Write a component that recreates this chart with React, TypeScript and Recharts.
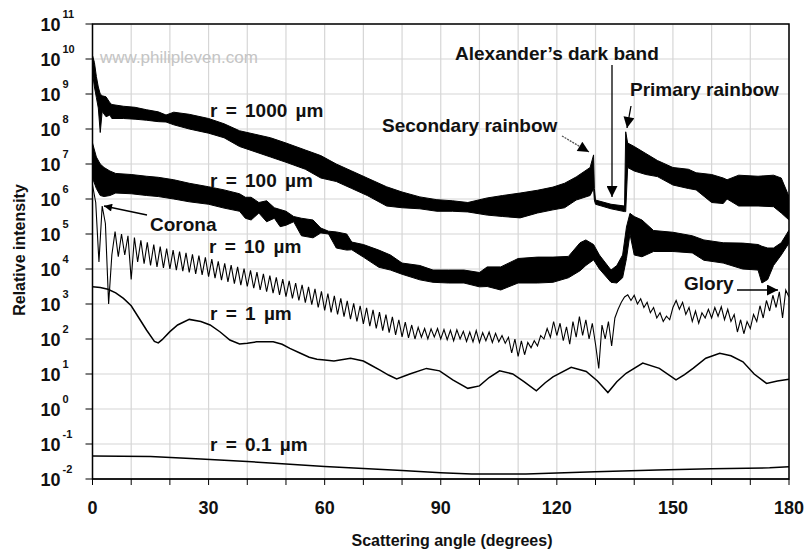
import React from "react";
import {
  ComposedChart,
  Line,
  Area,
  XAxis,
  YAxis,
  CartesianGrid,
  ReferenceArea,
} from "recharts";

// Scattered light intensity vs angle for water drops of several radii.
// Intensities are stored as exponents (log10 of relative intensity).

const xTicks = [0, 10, 20, 30, 40, 50, 60, 70, 80, 90, 100, 110, 120, 130, 140, 150, 160, 170, 180];
const yTickExp = [-2, -1, 0, 1, 2, 3, 4, 5, 6, 7, 8, 9, 10, 11];

// r = 1000 µm, drawn as the band between its lower and upper envelope
const r1000Angle = [0, 0.5, 1, 1.5, 2, 2.5, 3.5, 4.5, 5, 8, 11, 14, 17, 19, 21, 25, 30, 34, 38, 42, 46, 50, 55, 59, 63, 67, 71, 76, 80, 84.6, 89, 93, 97, 102, 106, 110.5, 115, 119, 122, 125, 128.6, 129.5, 129.7, 130, 134, 137.5, 137.8, 138.3, 140, 143, 146, 150, 154, 156, 160, 163, 164, 167, 172, 176, 178, 180];
const r1000Lo = [9.6, 9.2, 8.9, 8.6, 7.9, 8.5, 8.35, 8.4, 8.3, 8.3, 8.28, 8.25, 8.21, 8.2, 8.12, 8.0, 7.88, 7.75, 7.5, 7.35, 7.2, 7.05, 6.85, 6.6, 6.5, 6.3, 6.1, 5.8, 5.75, 5.72, 5.65, 5.65, 5.63, 5.54, 5.5, 5.46, 5.6, 5.69, 5.75, 5.97, 6.1, 6.3, 5.97, 5.85, 5.72, 5.64, 5.64, 6.9, 6.8, 6.7, 6.64, 6.4, 6.3, 6.26, 5.9, 5.87, 6.0, 5.8, 5.8, 5.78, 5.6, 5.4];
const r1000Hi = [10.1, 9.9, 9.5, 9.2, 9.0, 8.95, 8.92, 8.75, 8.7, 8.65, 8.62, 8.55, 8.49, 8.4, 8.48, 8.42, 8.3, 8.15, 7.95, 7.85, 7.75, 7.6, 7.4, 7.24, 7.0, 6.8, 6.6, 6.35, 6.2, 6.06, 5.98, 5.95, 5.9, 6.03, 6.1, 6.17, 6.25, 6.34, 6.45, 6.63, 6.9, 7.26, 6.3, 5.97, 5.85, 5.8, 7.92, 7.6, 7.5, 7.3, 7.1, 6.9, 6.85, 6.75, 6.7, 6.6, 6.55, 6.68, 6.65, 6.68, 6.6, 6.07];

// r = 100 µm band
const r100Angle = [0, 1, 2, 3, 4.5, 6, 10, 14, 17, 21, 25, 30, 34, 38, 39.5, 41, 43, 45, 47, 48.5, 50, 52, 54, 57, 59, 61, 63, 65.7, 67, 70, 74, 77, 80, 84.6, 88, 92, 96, 100, 102, 105.5, 110, 115, 119, 123, 126, 127.5, 129.5, 131, 134, 135.5, 137, 138, 138.9, 140, 142, 145, 150, 155, 158, 163, 168, 172, 173, 174.5, 176, 178, 180];
const r100Lo = [6.6, 6.3, 6.1, 6.07, 6.1, 6.17, 6.15, 6.1, 6.07, 6.0, 5.92, 5.85, 5.74, 5.65, 5.45, 5.4, 5.6, 5.35, 5.45, 5.21, 5.25, 5.35, 4.95, 4.89, 5.03, 5.0, 4.6, 4.54, 4.55, 4.34, 4.05, 3.97, 3.85, 3.69, 3.62, 3.6, 3.6, 3.49, 3.5, 3.4, 3.6, 3.6, 3.62, 3.75, 3.95, 4.1, 4.26, 4.0, 3.62, 3.6, 3.75, 4.3, 5.0, 4.4, 4.35, 4.5, 4.5, 4.46, 4.25, 4.17, 4.0, 3.97, 3.6, 3.7, 4.1, 4.4, 4.74];
const r100Hi = [7.6, 7.2, 7.0, 6.9, 6.8, 6.73, 6.7, 6.65, 6.62, 6.55, 6.45, 6.35, 6.26, 6.15, 6.05, 6.05, 5.9, 5.95, 5.75, 5.7, 5.65, 5.5, 5.45, 5.4, 5.17, 5.08, 5.06, 5.0, 4.77, 4.7, 4.54, 4.4, 4.17, 4.1, 3.97, 3.97, 3.97, 3.9, 4.06, 4.06, 4.3, 4.34, 4.34, 4.36, 4.75, 4.83, 4.7, 4.4, 3.97, 4.1, 4.4, 5.2, 5.59, 5.5, 5.4, 5.1, 5.05, 4.95, 4.83, 4.75, 4.74, 4.7, 4.65, 4.6, 4.6, 4.75, 5.11];

// r = 10 µm, peaks and troughs every 10/12 degree from 0° to 180°
const r10Step = 10 / 12;
const r10Exp = [
  6.4, 5.9, 4.2, 5.8, 5.3, 3.0, 4.4, 5.07, 4.35, 5.0, 4.4, 4.95,
  3.7, 4.9, 4.2, 4.82, 4.15, 4.76, 4.1, 4.7, 4.06, 4.64, 4.03, 4.58,
  4.0, 4.54, 3.97, 4.5, 3.94, 4.46, 3.9, 4.42, 3.86, 4.38, 3.83, 4.33,
  3.78, 4.28, 3.74, 4.22, 3.68, 4.16, 3.63, 4.11, 3.58, 4.06, 3.54, 4.01,
  3.5, 3.96, 3.45, 3.91, 3.4, 3.86, 3.35, 3.81, 3.31, 3.76, 3.26, 3.71,
  3.21, 3.66, 3.16, 3.6, 3.1, 3.55, 3.04, 3.49, 2.98, 3.43, 2.9, 3.36,
  2.82, 3.3, 2.76, 3.23, 2.7, 3.16, 2.64, 3.09, 2.57, 3.02, 2.5, 2.95,
  2.43, 2.89, 2.37, 2.83, 2.3, 2.77, 2.24, 2.7, 2.18, 2.63, 2.12, 2.55,
  2.06, 2.48, 2.03, 2.4, 2.0, 2.33, 2.05, 2.3, 2.0, 2.29, 2.06, 2.3,
  2.0, 2.27, 1.98, 2.25, 1.95, 2.26, 2.0, 2.22, 1.93, 2.2, 1.92, 2.24,
  1.9, 2.18, 1.95, 2.2, 1.9, 2.16, 1.92, 2.1, 1.88, 2.05, 1.6, 2.0,
  1.5, 1.95, 1.55, 1.9, 1.75, 1.95, 1.8, 2.1, 2.0, 2.3, 2.05, 2.5,
  2.1, 2.45, 1.95, 2.35, 1.85, 2.5, 2.05, 2.64, 2.1, 2.55, 2.0, 2.45,
  1.85, 1.16, 2.4, 2.0, 2.5, 1.8, 2.6, 2.85, 3.05, 3.2, 3.26, 3.1,
  3.25, 3.0, 3.15, 2.9, 3.05, 2.75, 2.9, 2.6, 2.75, 2.5, 2.65, 2.55,
  2.9, 3.1, 2.85, 3.05, 2.7, 2.9, 2.5, 2.8, 2.45, 2.75, 2.6, 2.85,
  2.6, 2.9, 2.65, 2.92, 2.55, 2.85, 2.5, 2.7, 2.2, 2.55, 2.15, 2.5,
  2.3, 2.7, 2.5, 2.95, 2.6, 3.1, 2.8, 3.25, 2.9, 3.35, 2.6, 3.4,
  3.2,
];

// r = 1 µm
const r1Angle = [0, 2, 4, 6, 8, 10, 12, 14, 16, 17, 18, 20, 22, 25, 28, 30.4, 33, 35.5, 38, 40, 42.4, 46.7, 49, 51, 53.6, 56, 58, 60, 62.4, 66.7, 70, 72, 74.3, 76.5, 78.6, 82, 86.3, 89.7, 93.1, 97, 100, 102.5, 105.2, 108.6, 111.5, 114.7, 117, 119, 123.7, 127.6, 130.5, 133.2, 135.5, 137.9, 142.2, 146.5, 150.8, 153, 155.2, 158.5, 162.1, 165, 168.1, 171, 174.2, 177, 180];
const r1Exp = [3.49, 3.47, 3.42, 3.32, 3.16, 2.95, 2.6, 2.25, 1.93, 1.89, 1.98, 2.21, 2.4, 2.56, 2.5, 2.4, 2.2, 1.97, 1.86, 1.88, 1.92, 1.92, 1.85, 1.73, 1.6, 1.48, 1.42, 1.4, 1.37, 1.45, 1.37, 1.25, 1.11, 0.97, 0.86, 1.0, 1.16, 1.09, 0.83, 0.59, 0.66, 0.9, 1.09, 1.0, 0.78, 0.52, 0.75, 0.92, 1.19, 1.07, 0.8, 0.47, 0.78, 1.02, 1.31, 1.16, 0.83, 0.98, 1.16, 1.45, 1.59, 1.52, 1.35, 1.0, 0.73, 0.8, 0.85];

// r = 0.1 µm
const r01Angle = [0, 15, 28, 40, 50, 60, 70, 80, 90, 98, 112, 120, 130, 146, 160, 175, 180];
const r01Exp = [-1.34, -1.36, -1.43, -1.5, -1.57, -1.64, -1.7, -1.76, -1.82, -1.86, -1.86, -1.83, -1.79, -1.74, -1.71, -1.68, -1.65];

const pow = (e: number) => Math.pow(10, e);
const bandData = (angles: number[], lo: number[], hi: number[]) =>
  angles.map((a, i) => ({ angle: a, range: [pow(lo[i]), pow(hi[i])] }));
const lineData = (angles: number[], exps: number[]) =>
  angles.map((a, i) => ({ angle: a, value: pow(exps[i]) }));

const r1000Data = bandData(r1000Angle, r1000Lo, r1000Hi);
const r100Data = bandData(r100Angle, r100Lo, r100Hi);
const r10Data = lineData(r10Exp.map((_, i) => i * r10Step), r10Exp);
const r1Data = lineData(r1Angle, r1Exp);
const r01Data = lineData(r01Angle, r01Exp);

const FONT = "'Liberation Sans', Arial, sans-serif";

function PowerTick({ x, y, payload }: any) {
  const e = Math.round(Math.log10(payload.value));
  return (
    <g fontFamily={FONT} fontWeight="bold" fill="#111">
      <text x={x - 23} y={y + 7} textAnchor="end" fontSize={18}>10</text>
      <text x={x - 21} y={y - 6} fontSize={11}>{e}</text>
    </g>
  );
}

function AngleTick({ x, y, payload }: any) {
  if (payload.value % 30 !== 0) return <g />;
  return (
    <text x={x} y={y + 27} textAnchor="middle" fontFamily={FONT} fontWeight="bold" fontSize={18} fill="#111">
      {payload.value}
    </text>
  );
}

const labelStyle = { fontFamily: FONT, fontWeight: "bold" as const, fontSize: 19, fill: "#111" };

export default function App() {
  return (
    <div style={{ position: "relative", width: 806, height: 552, background: "#fff" }}>
      <style>{"body{margin:0}"}</style>
      <ComposedChart width={806} height={552} margin={{ top: 24, right: 17, bottom: 23, left: 0 }}>
        <CartesianGrid stroke="#d6d6d6" strokeWidth={1.2} />
        <XAxis
          type="number"
          dataKey="angle"
          domain={[0, 180]}
          ticks={xTicks}
          tick={<AngleTick />}
          tickSize={6}
          tickMargin={2}
          height={50}
          stroke="#000"
          interval={0}
          allowDataOverflow
        />
        <YAxis
          scale="log"
          domain={[pow(-2), pow(11)]}
          ticks={yTickExp.map(pow)}
          tick={<PowerTick />}
          tickSize={7}
          tickMargin={2}
          width={92.5}
          stroke="#000"
          interval={0}
          allowDataOverflow
        />
        <Area data={r1000Data} dataKey="range" type="linear" stroke="#000" strokeWidth={1} fill="#000" fillOpacity={1} dot={false} activeDot={false} isAnimationActive={false} />
        <Area data={r100Data} dataKey="range" type="linear" stroke="#000" strokeWidth={1} fill="#000" fillOpacity={1} dot={false} activeDot={false} isAnimationActive={false} />
        <Line data={r10Data} dataKey="value" type="linear" stroke="#000" strokeWidth={1.1} dot={false} activeDot={false} isAnimationActive={false} />
        <Line data={r1Data} dataKey="value" type="linear" stroke="#000" strokeWidth={1.5} dot={false} activeDot={false} isAnimationActive={false} />
        <Line data={r01Data} dataKey="value" type="linear" stroke="#000" strokeWidth={1.5} dot={false} activeDot={false} isAnimationActive={false} />
        <ReferenceArea x1={0} x2={180} y1={pow(-2)} y2={pow(11)} fill="none" fillOpacity={0} stroke="#000" strokeWidth={1.5} />
      </ComposedChart>

      <svg width={806} height={552} style={{ position: "absolute", left: 0, top: 0, pointerEvents: "none" }}>
        <defs>
          <marker id="head" viewBox="0 0 10 10" refX="10" refY="5" markerWidth="10" markerHeight="8" orient="auto" markerUnits="userSpaceOnUse">
            <path d="M0,0 L10,5 L0,10 z" fill="#000" />
          </marker>
          <marker id="bigHead" viewBox="0 0 10 10" refX="10" refY="5" markerWidth="15" markerHeight="11" orient="auto" markerUnits="userSpaceOnUse">
            <path d="M0,0 L10,5 L0,10 z" fill="#000" />
          </marker>
        </defs>
        <text x={100} y={63} fontFamily={FONT} fontSize={17} fill="#c4c4c4">www.philipleven.com</text>

        <text x={210} y={117} wordSpacing={3} {...labelStyle}>r = 1000 µm</text>
        <text x={210} y={187} wordSpacing={3} {...labelStyle}>r = 100 µm</text>
        <text x={209} y={253} wordSpacing={3} {...labelStyle}>r = 10 µm</text>
        <text x={210} y={320} wordSpacing={3} {...labelStyle}>r = 1 µm</text>
        <text x={210} y={451} wordSpacing={3} {...labelStyle}>r = 0.1 µm</text>

        <text x={150} y={231} {...labelStyle}>Corona</text>
        <line x1={147} y1={215} x2={104} y2={206} stroke="#000" strokeWidth={1.3} markerEnd="url(#head)" />

        <text x={455} y={60} {...labelStyle}>Alexander’s dark band</text>
        <line x1={612} y1={65} x2={612} y2={197} stroke="#000" strokeWidth={1.3} markerEnd="url(#bigHead)" />

        <text x={630} y={96} {...labelStyle}>Primary rainbow</text>
        <line x1={631} y1={106} x2={627} y2={128} stroke="#000" strokeWidth={1.3} markerEnd="url(#bigHead)" />

        <text x={382} y={132} {...labelStyle}>Secondary rainbow</text>
        <line x1={562} y1={136} x2={589} y2={152} stroke="#555" strokeWidth={1.3} strokeDasharray="2 1" markerEnd="url(#bigHead)" />

        <text x={684} y={290} {...labelStyle}>Glory</text>
        <line x1={737} y1={290} x2={778} y2={290} stroke="#000" strokeWidth={1.3} markerEnd="url(#bigHead)" />

        <text x={452} y={546} textAnchor="middle" fontFamily={FONT} fontWeight="bold" fontSize={16} fill="#111">
          Scattering angle (degrees)
        </text>
        <text
          x={0}
          y={0}
          transform="translate(25,250) rotate(-90)"
          textAnchor="middle"
          fontFamily={FONT}
          fontWeight="bold"
          fontSize={16}
          fill="#111"
        >
          Relative intensity
        </text>
      </svg>
    </div>
  );
}
